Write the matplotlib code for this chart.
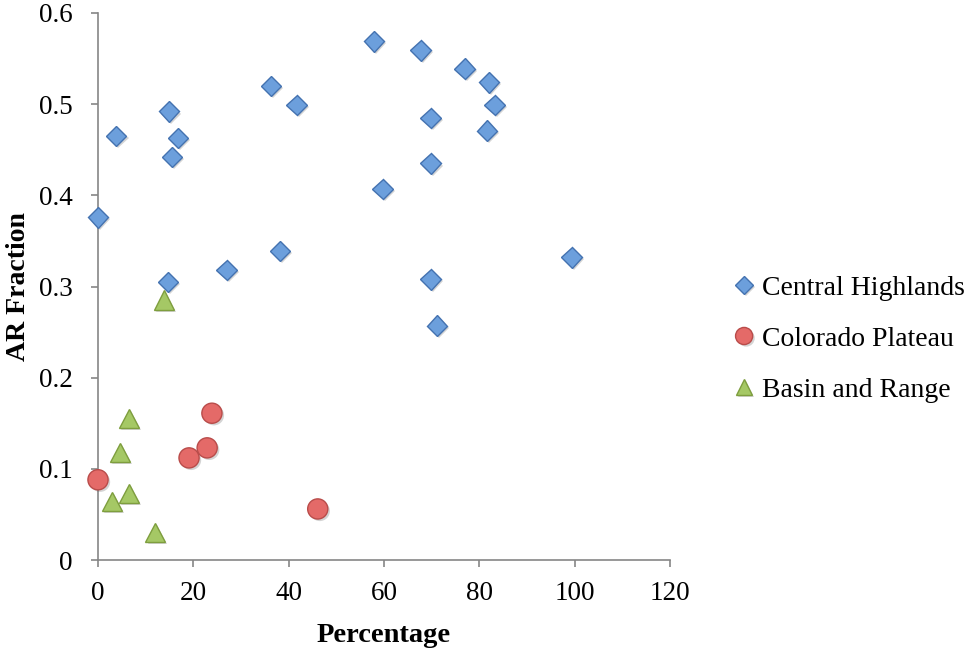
import matplotlib
matplotlib.use("Agg")
import matplotlib.pyplot as plt
import matplotlib.patheffects as pe

plt.rcParams['font.family'] = ['Liberation Serif', 'DejaVu Serif']

# Central Highlands
ch_x = [0, 3.8, 14.9, 16.8, 15.5, 14.7, 27.0, 36.3, 41.7, 38.2, 57.9, 67.7,
        59.7, 76.9, 82.0, 83.2, 69.8, 81.6, 69.8, 69.8, 71.1, 99.4]
ch_y = [0.376, 0.465, 0.492, 0.463, 0.442, 0.305, 0.318, 0.520, 0.499, 0.339,
        0.569, 0.559, 0.407, 0.539, 0.524, 0.499, 0.485, 0.471, 0.435, 0.308,
        0.257, 0.332]

# Colorado Plateau
cp_x = [0, 19.1, 22.9, 23.9, 46.1]
cp_y = [0.088, 0.112, 0.123, 0.161, 0.056]

# Basin and Range
br_x = [6.5, 4.6, 6.5, 2.9, 12.0, 13.8]
br_y = [0.155, 0.118, 0.073, 0.064, 0.030, 0.285]

x_ticks = [0, 20, 40, 60, 80, 100, 120]
y_ticks = [0, 0.1, 0.2, 0.3, 0.4, 0.5, 0.6]
y_tick_labels = ['0', '0.1', '0.2', '0.3', '0.4', '0.5', '0.6']

fig = plt.figure(figsize=(9.64, 6.49), dpi=100)
ax = fig.add_axes([98 / 964, 89 / 649, 572 / 964, 547 / 649])

shadow = [pe.SimplePatchShadow(offset=(1.5, -1.5), alpha=0.25, shadow_rgbFace='#555555'), pe.Normal()]

ax.plot(ch_x, ch_y, linestyle='none', marker='D', markersize=10.5,
        markerfacecolor='#6C9FDC', markeredgecolor='#4472B0', markeredgewidth=1.0,
        label='Central Highlands', path_effects=shadow, clip_on=False, zorder=3)
ax.plot(cp_x, cp_y, linestyle='none', marker='o', markersize=14.5,
        markerfacecolor='#E46A68', markeredgecolor='#B94C4A', markeredgewidth=1.0,
        label='Colorado Plateau', path_effects=shadow, clip_on=False, zorder=3)
ax.plot(br_x, br_y, linestyle='none', marker='^', markersize=14,
        markerfacecolor='#A5C865', markeredgecolor='#7E9E3E', markeredgewidth=1.0,
        label='Basin and Range', path_effects=shadow, clip_on=False, zorder=3)

ax.set_xlim(0, 120)
ax.set_ylim(0, 0.6)
ax.set_xticks(x_ticks)
ax.set_yticks(y_ticks)
ax.set_yticklabels(y_tick_labels)

for side in ('top', 'right'):
    ax.spines[side].set_visible(False)
for side in ('left', 'bottom'):
    ax.spines[side].set_color('#868686')
    ax.spines[side].set_linewidth(1.2)
ax.tick_params(axis='both', direction='out', length=5, width=1.2, color='#868686',
               labelsize=19.5)
ax.tick_params(axis='y', pad=13)
ax.tick_params(axis='x', pad=10)

ax.set_xlabel('Percentage', fontsize=20.5, fontweight='bold')
ax.set_ylabel('AR Fraction', fontsize=20, fontweight='bold')
ax.xaxis.set_label_coords(0.5, -0.116)
ax.yaxis.set_label_coords(-0.118, 0.5)

fig.legend(loc='center left', bbox_to_anchor=(733 / 964, 1 - 339 / 649),
           frameon=False, fontsize=20, markerscale=0.85, handlelength=0.8,
           handletextpad=0.25, labelspacing=0.92, borderpad=0, borderaxespad=0)

fig.savefig('out.png', dpi=100)
